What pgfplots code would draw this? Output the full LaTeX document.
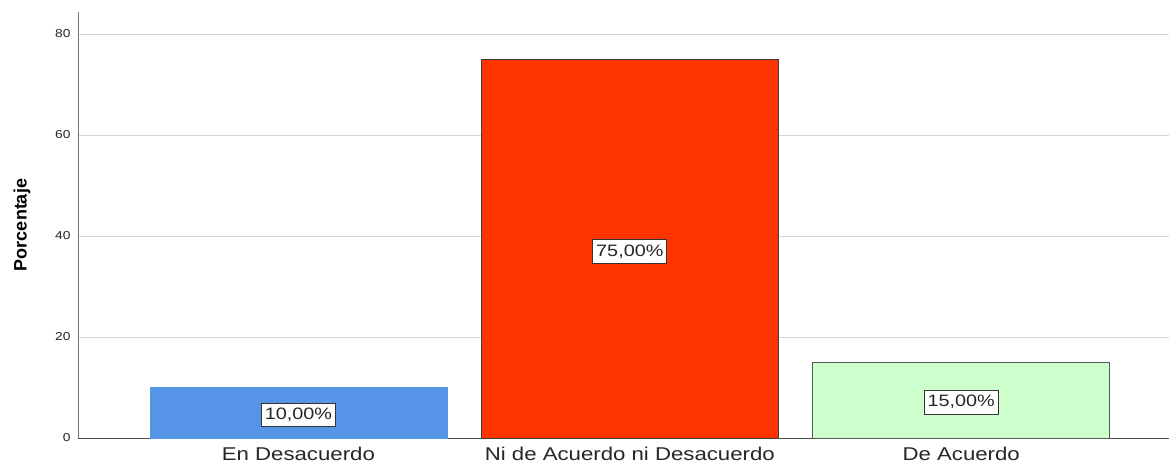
\documentclass[border=0pt]{standalone}
\usepackage{pgfplots}
\pgfplotsset{compat=1.18}
\usepackage{fontspec}
\setmainfont{Liberation Sans}
\newfontfamily\spss[FakeStretch=1.2]{Liberation Sans}
\definecolor{barblue}{HTML}{5594E6}
\definecolor{barred}{HTML}{FF3300}
\definecolor{bargreen}{HTML}{CCFFCC}
\definecolor{gridc}{HTML}{D4D4D4}
\begin{document}
\begin{tikzpicture}
\path[use as bounding box] (-78bp,-25bp) rectangle (1091bp,438bp);
\begin{axis}[
  at={(0,0)}, anchor=south west,
  scale only axis,
  width=1091bp, height=426bp,
  xmin=-0.665, xmax=2.627,
  ymin=0, ymax=84.36,
  axis x line*=bottom, axis y line*=left,
  axis line style={draw=black!55, line width=1pt},
  x axis line style={draw=black!70},
  xtick={0,1,2},
  xticklabels={En Desacuerdo, Ni de Acuerdo ni Desacuerdo, De Acuerdo},
  ytick={0,20,40,60,80},
  major tick length=0pt,
  ymajorgrids, grid style={draw=gridc, line width=0.8pt},
  tick label style={/pgf/number format/assume math mode=true},
  yticklabel style={font=\spss\fontsize{11.5bp}{13bp}\selectfont, text=black!85, xshift=-4bp},
  xticklabel style={font=\spss\fontsize{18.5bp}{21bp}\selectfont, text=black!85, yshift=-6bp},
  ylabel={\textbf{Porcentaje}},
  ylabel style={font=\fontsize{18bp}{21bp}\selectfont, at={(axis description cs:-0.0513,0.5)}, anchor=center},
  ybar, bar width=297bp,
  clip=false,
]
\addplot[ybar, bar shift=0pt, fill=barblue, draw=barblue] coordinates {(0,10)};
\addplot[ybar, bar shift=0pt, fill=barred, draw=black!75, line width=0.8pt] coordinates {(1,75)};
\addplot[ybar, bar shift=0pt, fill=bargreen, draw=black!65, line width=0.8pt] coordinates {(2,15)};
\addplot[only marks, mark=none, point meta=explicit symbolic,
  nodes near coords, nodes near coords align={center},
  every node near coord/.style={draw=black!80, fill=white, inner xsep=3.5bp, inner ysep=5bp, line width=0.8pt,
    font=\spss\fontsize{16.5bp}{19bp}\selectfont, text=black!85, anchor=center, yshift=-2bp}]
  coordinates {(0,5)[10,00\%] (1,37.3)[75,00\%] (2,7.5)[15,00\%]};
\end{axis}
\end{tikzpicture}
\end{document}
